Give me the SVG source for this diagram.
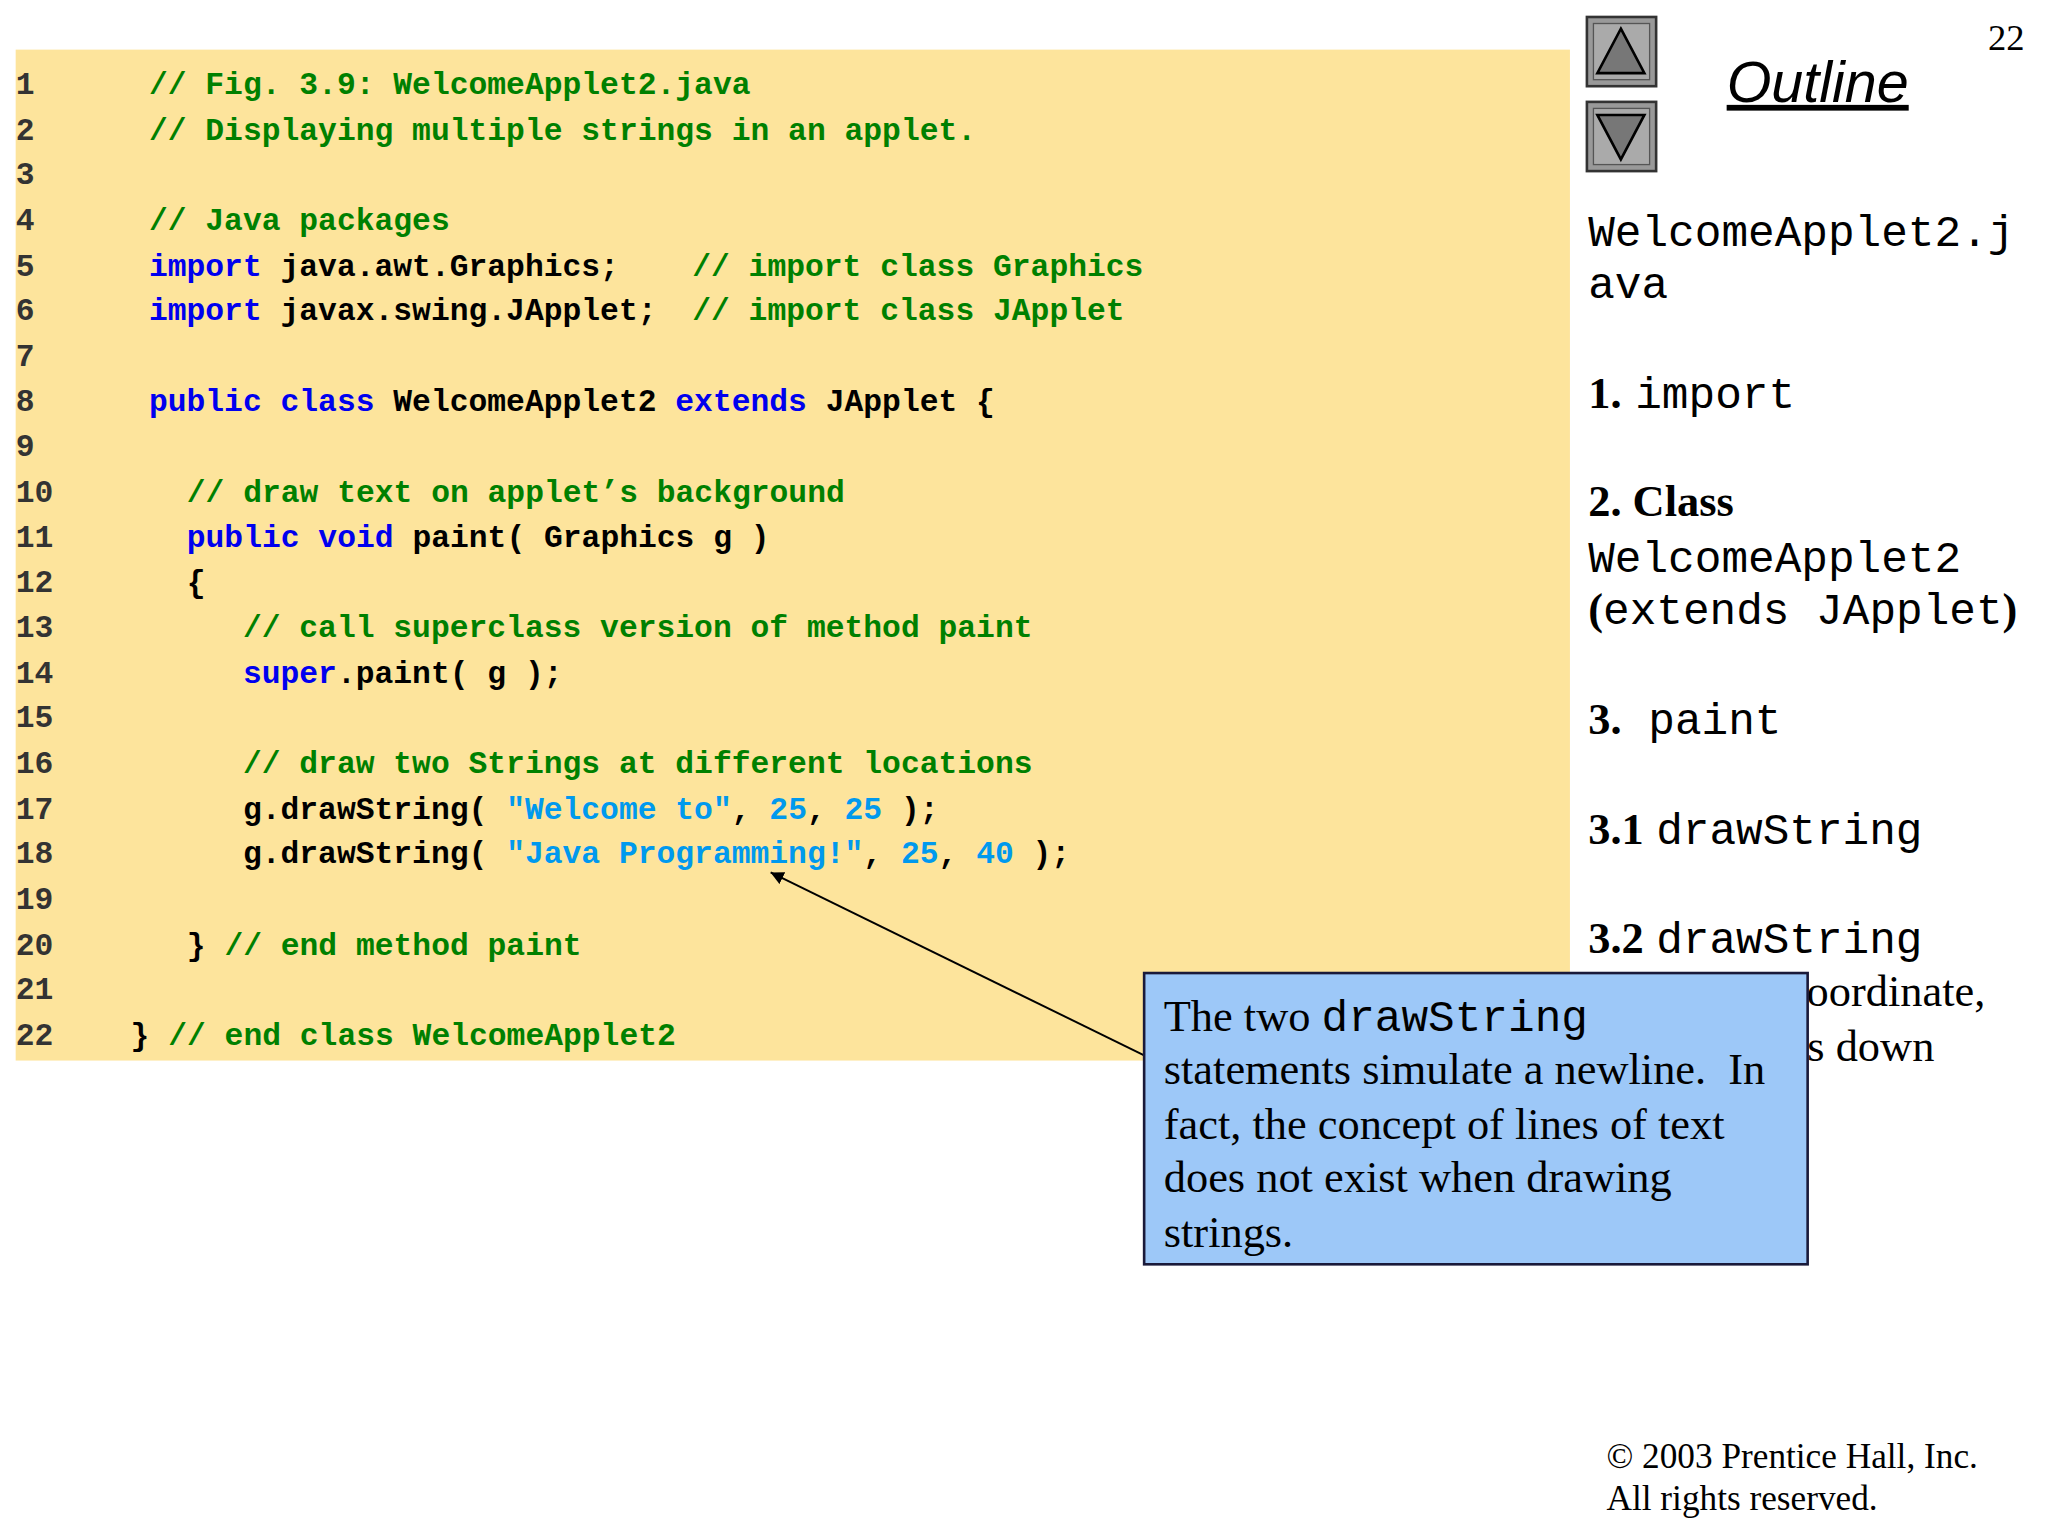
<svg xmlns="http://www.w3.org/2000/svg" width="2048" height="1536" viewBox="0 0 2048 1536">
<defs>
<marker id="ah" viewBox="0 0 10 10" refX="10" refY="5" markerWidth="10" markerHeight="10" markerUnits="userSpaceOnUse" orient="auto"><path d="M0,0 L10,5 L0,10 z" fill="#000"/></marker>
<style>
.c{font-family:"Liberation Mono",monospace;font-weight:bold;font-size:24px}
.n{fill:#333}
.g{fill:#008000}.k{fill:#0000ee}.s{fill:#0099ee}.b{fill:#000}
.t{font-family:"Liberation Serif",serif;font-size:34px}
.m{font-family:"Liberation Mono",monospace;font-size:34px}
</style>
</defs>
<rect width="2048" height="1536" fill="#fff"/>
<g transform="scale(1.3061)">
<g id="code">
<rect x="12" y="38" width="1190" height="774" fill="#fde49c"/>
<g class="c n">
<text x="12" y="72">1</text><text x="12" y="107">2</text><text x="12" y="141">3</text><text x="12" y="176">4</text><text x="12" y="211">5</text><text x="12" y="245">6</text><text x="12" y="280">7</text><text x="12" y="315">8</text><text x="12" y="349">9</text><text x="12" y="384">10</text><text x="12" y="419">11</text><text x="12" y="453">12</text><text x="12" y="488">13</text><text x="12" y="523">14</text><text x="12" y="557">15</text><text x="12" y="592">16</text><text x="12" y="627">17</text><text x="12" y="661">18</text><text x="12" y="696">19</text><text x="12" y="731">20</text><text x="12" y="765">21</text><text x="12" y="800">22</text>
</g>
<g class="c">
<text x="114" y="72" class="g">// Fig. 3.9: WelcomeApplet2.java</text>
<text x="114" y="107" class="g">// Displaying multiple strings in an applet.</text>
<text x="114" y="176" class="g">// Java packages</text>
<text x="114" y="211" xml:space="preserve"><tspan class="k">import</tspan><tspan class="b"> java.awt.Graphics;</tspan><tspan class="g" x="530">// import class Graphics</tspan></text>
<text x="114" y="245" xml:space="preserve"><tspan class="k">import</tspan><tspan class="b"> javax.swing.JApplet;</tspan><tspan class="g" x="530">// import class JApplet</tspan></text>
<text x="114" y="315" xml:space="preserve"><tspan class="k">public class</tspan><tspan class="b"> WelcomeApplet2 </tspan><tspan class="k">extends</tspan><tspan class="b"> JApplet {</tspan></text>
<text x="143" y="384" class="g">// draw text on applet’s background</text>
<text x="143" y="419" xml:space="preserve"><tspan class="k">public void</tspan><tspan class="b"> paint( Graphics g )</tspan></text>
<text x="143" y="453" class="b">{</text>
<text x="186" y="488" class="g">// call superclass version of method paint</text>
<text x="186" y="523" xml:space="preserve"><tspan class="k">super</tspan><tspan class="b">.paint( g );</tspan></text>
<text x="186" y="592" class="g">// draw two Strings at different locations</text>
<text x="186" y="627" xml:space="preserve"><tspan class="b">g.drawString( </tspan><tspan class="s">"Welcome to"</tspan><tspan class="b">, </tspan><tspan class="s">25</tspan><tspan class="b">, </tspan><tspan class="s">25</tspan><tspan class="b"> );</tspan></text>
<text x="186" y="661" xml:space="preserve"><tspan class="b">g.drawString( </tspan><tspan class="s">"Java Programming!"</tspan><tspan class="b">, </tspan><tspan class="s">25</tspan><tspan class="b">, </tspan><tspan class="s">40</tspan><tspan class="b"> );</tspan></text>
<text x="143" y="731" xml:space="preserve"><tspan class="b">} </tspan><tspan class="g">// end method paint</tspan></text>
<text x="100" y="800" xml:space="preserve"><tspan class="b">} </tspan><tspan class="g">// end class WelcomeApplet2</tspan></text>
</g>
</g>
<g id="nav">
<rect x="1215" y="13" width="53" height="53" fill="#999" stroke="#333" stroke-width="2"/>
<rect x="1220" y="18" width="43" height="43" fill="#aaa" stroke="#555"/>
<path d="M1241,22 L1259,56 L1223,56 Z" fill="#777" stroke="#000" stroke-width="2"/>
<rect x="1215" y="78" width="53" height="53" fill="#999" stroke="#333" stroke-width="2"/>
<rect x="1220" y="83" width="43" height="43" fill="#aaa" stroke="#555"/>
<path d="M1223,88 L1259,88 L1241,122 Z" fill="#777" stroke="#000" stroke-width="2"/>
</g>
<g id="sidebar">
<text x="1522" y="38" font-family="Liberation Serif,serif" font-size="28">22</text>
<text x="1322" y="78" font-family="Liberation Sans,sans-serif" font-style="italic" font-size="44" text-decoration="underline">Outline</text>
<text x="1216" y="188" class="m">WelcomeApplet2.j</text>
<text x="1216" y="228" class="m">ava</text>
<text x="1216" y="312"><tspan class="t" font-weight="bold">1.</tspan><tspan class="m" x="1252">import</tspan></text>
<text x="1216" y="395" class="t" font-weight="bold">2. Class</text>
<text x="1216" y="438" class="m">WelcomeApplet2</text>
<text x="1216" y="478" xml:space="preserve"><tspan class="t" font-weight="bold">(</tspan><tspan class="m">extends JApplet</tspan><tspan class="t" font-weight="bold">)</tspan></text>
<text x="1216" y="562"><tspan class="t" font-weight="bold">3.</tspan><tspan class="m" x="1262">paint</tspan></text>
<text x="1216" y="646"><tspan class="t" font-weight="bold">3.1</tspan><tspan class="m" x="1268">drawString</tspan></text>
<text x="1216" y="730"><tspan class="t" font-weight="bold">3.2</tspan><tspan class="m" x="1268">drawString</tspan></text>
<text x="1520" y="770" class="t" text-anchor="end">Modify y-coordinate,</text>
<text x="1481" y="812" class="t" text-anchor="end">so it draws down</text>
</g>
<g id="connectors">
<line x1="876" y1="808" x2="590" y2="668" stroke="#000" stroke-width="1.5" marker-end="url(#ah)"/>
</g>
<g id="callout">
<rect x="876" y="745" width="508" height="223" fill="#9dc8f8" stroke="#1a1a3a" stroke-width="2"/>
<text x="891" y="789" xml:space="preserve"><tspan class="t">The two </tspan><tspan class="m">drawString</tspan></text>
<text x="891" y="830" class="t" xml:space="preserve">statements simulate a newline.  In</text>
<text x="891" y="872" class="t">fact, the concept of lines of text</text>
<text x="891" y="913" class="t">does not exist when drawing</text>
<text x="891" y="955" class="t">strings.</text>
</g>
<g id="footer" font-family="Liberation Serif,serif" font-size="27">
<text x="1230" y="1124">© 2003 Prentice Hall, Inc.</text>
<text x="1230" y="1156">All rights reserved.</text>
</g>
</g>
</svg>
